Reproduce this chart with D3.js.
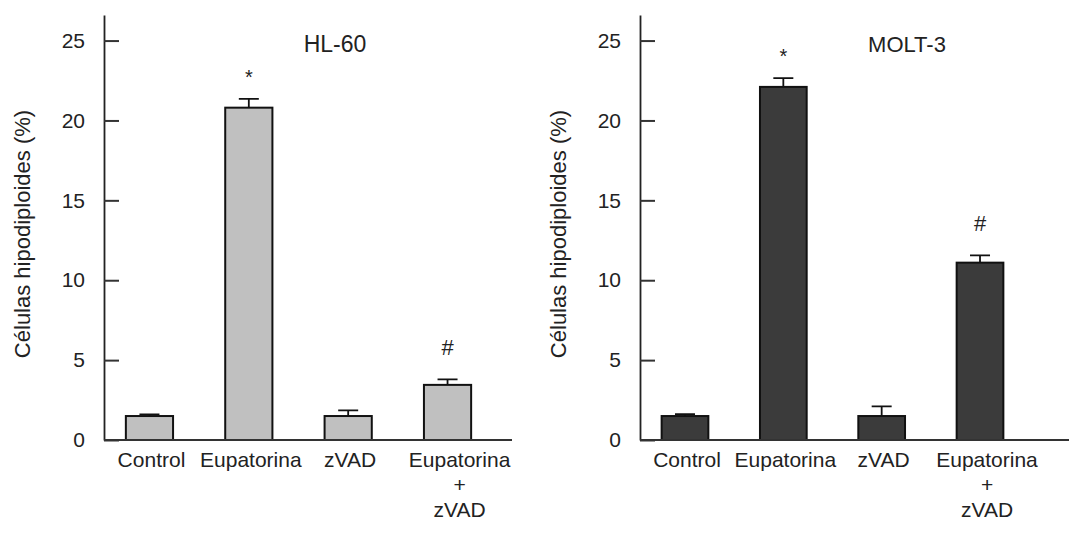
<!DOCTYPE html>
<html>
<head>
<meta charset="utf-8">
<script src="https://cdn.jsdelivr.net/npm/d3@7"></script>
<style>
  body { margin: 0; background: #fff; }
  svg text { font-family: "Liberation Sans", Arial, sans-serif; fill: #222; }
</style>
</head>
<body>
<svg id="chart" width="1069" height="542"></svg>
<script>
// data
const categories = ["Control", "Eupatorina", "zVAD", "Eupatorina + zVAD"];
const categoryLines = [["Control"], ["Eupatorina"], ["zVAD"], ["Eupatorina", "+", "zVAD"]];
const hl60Values = [1.5, 20.8, 1.5, 3.45];
const hl60Errors = [0.1, 0.55, 0.35, 0.35];
const hl60Marks = ["", "*", "", "#"];
const molt3Values = [1.5, 22.1, 1.5, 11.1];
const molt3Errors = [0.12, 0.55, 0.6, 0.45];
const molt3Marks = ["", "*", "", "#"];
const yTicks = [0, 5, 10, 15, 20, 25];
const yLabel = "Células hipodiploides (%)";

const svg = d3.select('#chart');

function drawPanel(opts) {
    const g = svg.append('g');

    const y = d3.scaleLinear()
        .domain([0, 26.6])
        .range([440, 15]);

    const x = d3.scaleBand()
        .domain(categories)
        .range([opts.axisX, opts.bandEnd])
        .paddingInner(0.525)
        .paddingOuter(0.22);

    const rows = categories.map((c, i) => ({
        cat: c, lines: categoryLines[i], value: opts.values[i], err: opts.errors[i], mark: opts.marks[i]
    }));

    // error bars (drawn first, bar covers the lower part)
    g.selectAll('.err')
        .data(rows)
        .enter().append('path')
        .attr('class', 'err')
        .attr('fill', 'none')
        .attr('stroke', '#111')
        .attr('stroke-width', 1.8)
        .attr('d', d => {
            const cx = x(d.cat) + x.bandwidth() / 2;
            const top = y(d.value + d.err);
            return `M${cx},${y(d.value)}V${top}M${cx - 10},${top}H${cx + 10}`;
        });

    // bars
    g.selectAll('.bar')
        .data(rows)
        .enter().append('rect')
        .attr('class', 'bar')
        .attr('x', d => x(d.cat))
        .attr('y', d => y(d.value))
        .attr('width', x.bandwidth())
        .attr('height', d => y(0) - y(d.value))
        .attr('fill', opts.fill)
        .attr('stroke', '#111')
        .attr('stroke-width', 2);

    // significance marks
    g.selectAll('.mark')
        .data(rows.filter(d => d.mark))
        .enter().append('text')
        .attr('class', 'mark')
        .attr('x', d => x(d.cat) + x.bandwidth() / 2)
        .attr('y', d => y(d.value + d.err) - (d.mark === '*' ? 15 : 24))
        .attr('text-anchor', 'middle')
        .style('font-size', d => d.mark === '*' ? '20px' : '22px')
        .text(d => d.mark);

    // y axis, ticks pointing inward
    const axis = g.append('g')
        .attr('transform', `translate(${opts.axisX},0)`)
        .call(d3.axisLeft(y).tickValues(yTicks).tickSizeInner(-15).tickSizeOuter(0).tickPadding(19));
    axis.select('.domain').attr('stroke', '#222').attr('stroke-width', 1.8);
    axis.selectAll('.tick line').attr('stroke', '#333').attr('stroke-width', 2);
    axis.selectAll('.tick text')
        .style('font-size', '21px')
        .attr('fill', '#222')
        .attr('font-family', '"Liberation Sans", Arial, sans-serif');

    // baseline
    g.append('line')
        .attr('x1', opts.axisX)
        .attr('x2', opts.lineEnd)
        .attr('y1', y(0))
        .attr('y2', y(0))
        .attr('stroke', '#333')
        .attr('stroke-width', 2);

    // category labels
    const lab = g.selectAll('.cat')
        .data(rows)
        .enter().append('text')
        .attr('class', 'cat')
        .attr('text-anchor', 'middle')
        .style('font-size', '21px')
        .attr('transform', d => {
            const shift = d.lines.length > 1 ? opts.multiShift : opts.shift;
            return `translate(${x(d.cat) + x.bandwidth() / 2 + shift},467)`;
        });
    lab.selectAll('tspan')
        .data(d => d.lines)
        .enter().append('tspan')
        .attr('x', 0)
        .attr('dy', (d, i) => i === 0 ? 0 : 25)
        .text(d => d);

    // panel title
    g.append('text')
        .attr('x', opts.titleX)
        .attr('y', 52)
        .attr('text-anchor', 'middle')
        .style('font-size', opts.titleSize)
        .text(opts.title);

    // y axis label
    g.append('text')
        .attr('transform', `translate(${opts.axisX - 74},234) rotate(-90)`)
        .attr('text-anchor', 'middle')
        .style('font-size', '22px')
        .text(yLabel);
}

drawPanel({
    title: 'HL-60', titleX: 335, titleSize: '23px',
    values: hl60Values, errors: hl60Errors, marks: hl60Marks,
    axisX: 104, bandEnd: 493, lineEnd: 512,
    fill: '#c0c0c0', shift: 2, multiShift: 12
});

drawPanel({
    title: 'MOLT-3', titleX: 907, titleSize: '22px',
    values: molt3Values, errors: molt3Errors, marks: molt3Marks,
    axisX: 640, bandEnd: 1025, lineEnd: 1069,
    fill: '#3b3b3b', shift: 2, multiShift: 7
});
</script>
</body>
</html>
